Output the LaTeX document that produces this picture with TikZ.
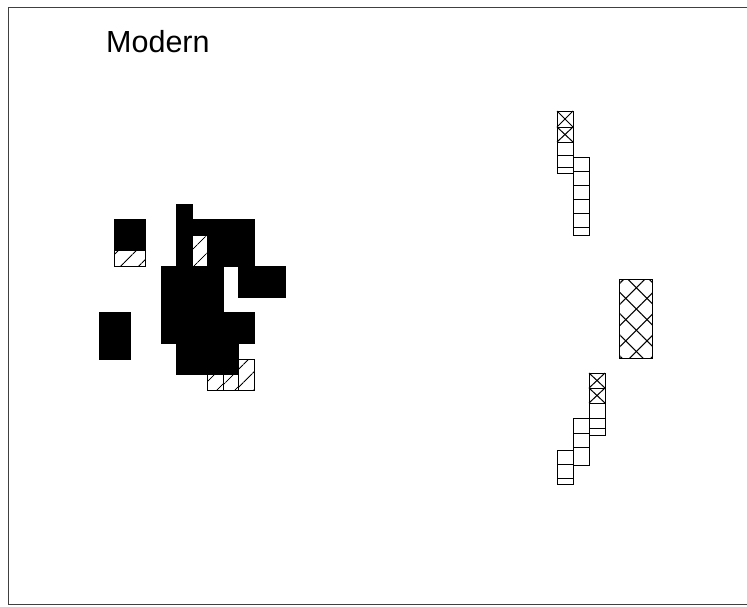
\documentclass[tikz,border=0pt]{standalone}
\usepackage{fontspec}
\setmainfont{Liberation Sans}
\usepackage{tikz}
\usetikzlibrary{patterns.meta}

\begin{document}
\begin{tikzpicture}[
    x=1pt, y=-1pt,
    frame/.style={draw=black!75, line width=0.8pt},
    solid cell/.style={fill=black, draw=black, line width=0.6pt},
    hatch cell/.style={draw=black, line width=0.9pt, fill=white,
      postaction={pattern={Lines[angle=45,distance=13pt,line width=1.1pt]}}},
    grid cell/.style={draw=black, line width=1pt},
    diamond cell/.style={draw=black, line width=1pt,
      postaction={pattern={Lines[angle=45,distance=15pt,line width=1.1pt]}},
      postaction={pattern={Lines[angle=-45,distance=15pt,line width=1.1pt]}}}
  ]
  \useasboundingbox (0,0) rectangle (747,606);

  % frame and title
  \draw[frame] (747,7) -- (8,7) -- (8,604) -- (747,604);
  \node[anchor=base west, inner sep=0pt, font=\fontsize{30.5}{36}\selectfont] (title) at (106,52.7) {Modern};

  % left cluster, one unit = one cell
  \begin{scope}[shift={(99,204)}, x=15.5pt, y=-15.5pt]
    \draw[solid cell] (5,0) rectangle (6,1);
    \draw[solid cell] (5,1) rectangle (10,4);
    \draw[solid cell] (4,4) rectangle (8,7);
    \draw[solid cell] (9,4) rectangle (12,6);
    \draw[solid cell] (4,7) rectangle (10,9);
    \draw[solid cell] (5,9) rectangle (9,11);
    \draw[solid cell] (1,1) rectangle (3,3);
    \draw[solid cell] (0,7) rectangle (2,10);

    \draw[hatch cell] (6,2) rectangle (7,4);
    \draw[hatch cell] (1,3) rectangle (3,4);
    \foreach \c in {7,8}
      \draw[hatch cell] (\c,11) rectangle (\c+1,12);
    \draw[hatch cell] (9,10) rectangle (10,12);
  \end{scope}

  % upper stack
  \foreach \ya/\yb in {111/127, 127/142} {
    \draw[grid cell] (557,\ya) rectangle (573,\yb);
    \draw[grid cell] (557,\ya) -- (573,\yb) (573,\ya) -- (557,\yb);
  }
  \foreach \ya/\yb in {142/155, 155/167, 167/173}
    \draw[grid cell] (557,\ya) rectangle (573,\yb);
  \foreach \ya/\yb in {157/171, 171/185, 185/199, 199/213, 213/227, 227/235}
    \draw[grid cell] (573,\ya) rectangle (589,\yb);

  % crossed block
  \draw[diamond cell] (619,279) rectangle (652,358);

  % lower stack
  \foreach \ya/\yb in {373/388, 388/403} {
    \draw[grid cell] (589,\ya) rectangle (605,\yb);
    \draw[grid cell] (589,\ya) -- (605,\yb) (605,\ya) -- (589,\yb);
  }
  \foreach \ya/\yb in {403/418, 418/428, 428/435}
    \draw[grid cell] (589,\ya) rectangle (605,\yb);
  \foreach \ya/\yb in {418/433, 433/447, 447/465}
    \draw[grid cell] (573,\ya) rectangle (589,\yb);
  \foreach \ya/\yb in {450/464, 464/478, 478/484}
    \draw[grid cell] (557,\ya) rectangle (573,\yb);
\end{tikzpicture}
\end{document}
